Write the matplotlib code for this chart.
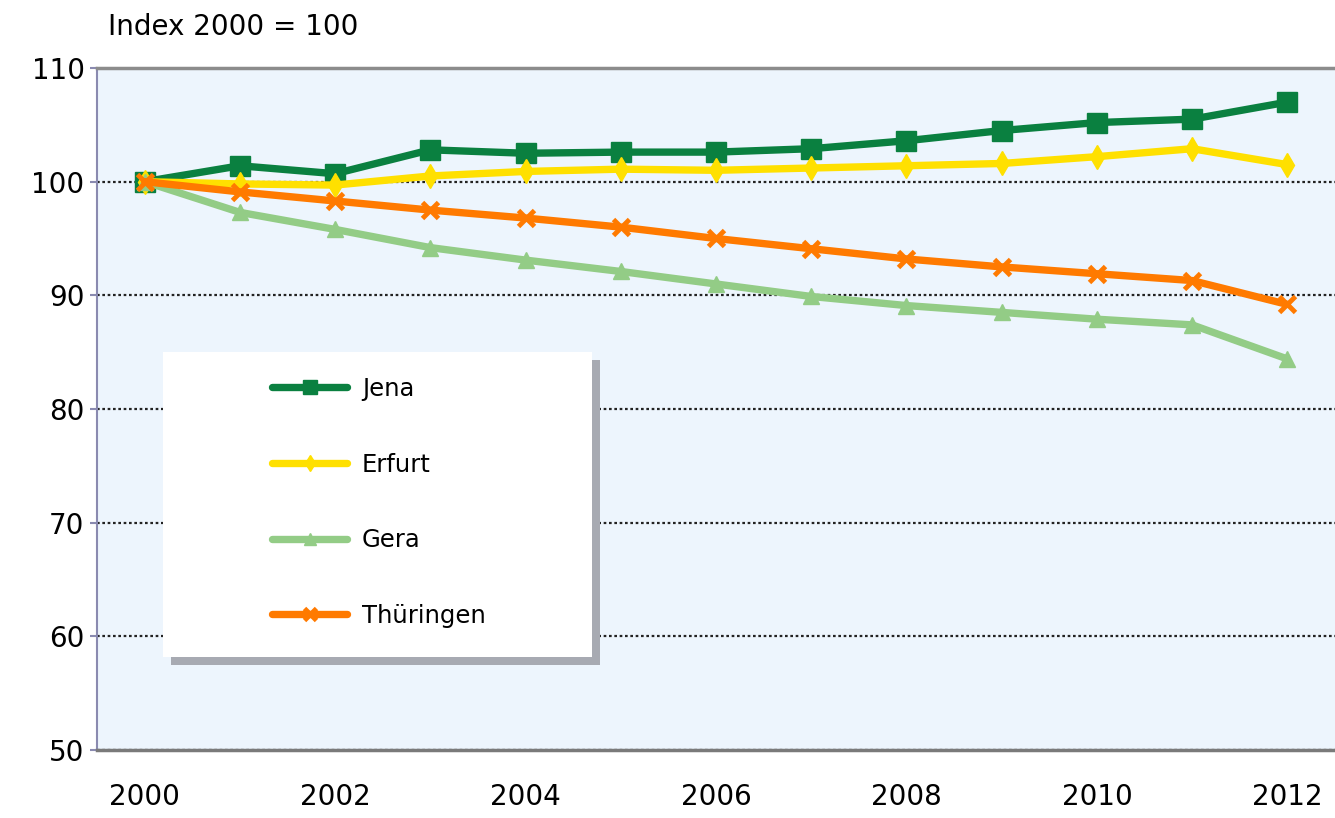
import matplotlib.pyplot as plt
from matplotlib.patches import Rectangle

# Index 2000 = 100
YEARS = list(range(2000, 2013))
JENA = [100.0, 101.4, 100.7, 102.8, 102.5, 102.6, 102.6, 102.9, 103.6, 104.5, 105.2, 105.5, 107.0]
ERFURT = [100.0, 99.8, 99.7, 100.5, 100.9, 101.1, 101.0, 101.2, 101.4, 101.6, 102.2, 102.9, 101.5]
GERA = [100.0, 97.3, 95.8, 94.2, 93.1, 92.1, 91.0, 89.9, 89.1, 88.5, 87.9, 87.4, 84.4]
THUERINGEN = [100.0, 99.1, 98.3, 97.5, 96.8, 96.0, 95.0, 94.1, 93.2, 92.5, 91.9, 91.3, 89.2]

SERIES = [
    ('Jena', JENA, '#0A8040', 's', 14, 1),
    ('Erfurt', ERFURT, '#FFE000', 'd', 12, 1),
    ('Gera', GERA, '#93CC86', '^', 12, 1),
    ('Thüringen', THUERINGEN, '#FF7A00', 'x', 12, 3.5),
]

W, H = 1335, 818
fig = plt.figure(figsize=(W / 100, H / 100), dpi=100)
fig.patch.set_facecolor('white')
ax = fig.add_axes([97 / W, 1 - 750 / H, 1 - 97 / W, 682 / H])
ax.set_facecolor('#EDF5FD')

handles = []
for name, vals, color, marker, ms, mew in SERIES:
    h, = ax.plot(YEARS, vals, color=color, lw=5.3, marker=marker, markersize=ms,
                 markeredgewidth=mew, markeredgecolor=color, markerfacecolor=color,
                 label=name, zorder=3, clip_on=False, solid_capstyle='round')
    handles.append(h)

ax.set_xlim(1999.5, 2012.5)
ax.set_ylim(50, 110)
ax.set_xticks(YEARS[::2])
ax.set_yticks(range(50, 111, 10))
ax.tick_params(axis='x', length=0, pad=24, labelsize=20)
ax.tick_params(axis='y', length=5, width=1.5, color='#8A8AB0', pad=4, labelsize=20)

ax.yaxis.grid(True, linestyle=(0, (1.2, 1.2)), color='#222222', lw=1.6)
ax.set_axisbelow(True)

ax.spines['right'].set_visible(False)
ax.spines['left'].set_color('#8A8AB0')
ax.spines['left'].set_linewidth(1.5)
ax.spines['top'].set_color('#8C8C8C')
ax.spines['top'].set_linewidth(2.5)
ax.spines['bottom'].set_color('#7A7A7A')
ax.spines['bottom'].set_linewidth(2.5)

# legend box with shadow
bx0, by0 = (163 - 97) / 1238, (750 - 657) / 682
bw, bh = (592 - 163) / 1238, (657 - 352) / 682
ax.add_patch(Rectangle((bx0 + 8 / 1238, by0 - 8 / 682), bw, bh, transform=ax.transAxes,
                       facecolor='#A7AAB2', edgecolor='none', zorder=4))
ax.add_patch(Rectangle((bx0, by0), bw, bh, transform=ax.transAxes,
                       facecolor='white', edgecolor='none', zorder=5))
leg = ax.legend(handles=handles, loc='upper left',
                bbox_to_anchor=((272 - 97) / 1238, (750 - 377) / 682),
                frameon=False, fontsize=17.5, handlelength=3.1, handletextpad=0.6,
                labelspacing=2.12, borderpad=0, borderaxespad=0, markerscale=0.7)
leg.set_zorder(6)

fig.text(108 / W, 1 - 27 / H, 'Index 2000 = 100', ha='left', va='center', fontsize=20)

fig.savefig('out.png', dpi=100)
